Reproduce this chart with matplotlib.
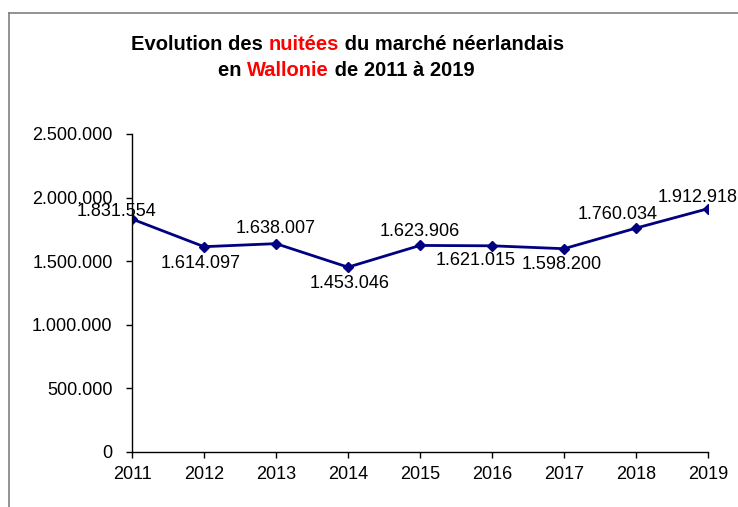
import matplotlib.pyplot as plt
from matplotlib.lines import Line2D
from matplotlib.ticker import FuncFormatter

plt.rcParams['font.family'] = ['Liberation Sans', 'DejaVu Sans']

years = ['2011', '2012', '2013', '2014', '2015', '2016', '2017', '2018', '2019']
nuitees = [1831554, 1614097, 1638007, 1453046, 1623906, 1621015, 1598200, 1760034, 1912918]
yticks = [0, 500000, 1000000, 1500000, 2000000, 2500000]

# label offsets in pixels (dx, dy), as placed in the original
label_offsets = [(-15, 8), (-3, -17), (0, 15), (2, -16), (0, 14),
                 (-16, -15), (-2, -16), (-18, 14), (-10, 11)]


def fmt_dots(v, pos=None):
    return f'{int(v):,}'.replace(',', '.')


fig = plt.figure(figsize=(7.38, 5.07), dpi=100)
ax = fig.add_axes([132 / 738, 1 - 452 / 507, (708 - 132) / 738, (452 - 134) / 507])

x = list(range(len(years)))
ax.plot(x, nuitees, color='#000080', linewidth=2, marker='D', markersize=5)

for i, v in enumerate(nuitees):
    dx, dy = label_offsets[i]
    ax.annotate(fmt_dots(v), (i, v), xytext=(dx * 0.72, dy * 0.72), textcoords='offset points',
                ha='center', va='center', fontsize=13, color='black', annotation_clip=False)

ax.set_xlim(0, len(years) - 1)
ax.set_ylim(0, 2500000)
ax.set_xticks(x)
ax.set_xticklabels(years)
ax.set_yticks(yticks)
ax.yaxis.set_major_formatter(FuncFormatter(fmt_dots))
ax.tick_params(axis='both', direction='out', length=4, width=1, labelsize=13, colors='black')
ax.tick_params(axis='y', pad=10)
ax.tick_params(axis='x', pad=6)
for s in ['top', 'right']:
    ax.spines[s].set_visible(False)
for s in ['left', 'bottom']:
    ax.spines[s].set_linewidth(1)
    ax.spines[s].set_color('black')

# outer frame (left and top visible)
fig.add_artist(Line2D([9 / 738, 9 / 738], [0, 1 - 13 / 507], color='#808080', linewidth=1.2))
fig.add_artist(Line2D([9 / 738, 1], [1 - 13 / 507, 1 - 13 / 507], color='#808080', linewidth=1.2))

# two-colour title, pieces chained one after another
title_lines = [
    (131 / 738, 1 - 45 / 507, [('Evolution des ', 'black'), ('nuitées', 'red'), (' du marché néerlandais', 'black')]),
    (218 / 738, 1 - 70 / 507, [('en ', 'black'), ('Wallonie', 'red'), (' de 2011 à 2019', 'black')]),
]
for x0, y0, pieces in title_lines:
    prev = None
    for txt, col in pieces:
        if prev is None:
            prev = fig.text(x0, y0, txt, color=col, fontsize=14.5, fontweight='bold', va='center', ha='left')
        else:
            prev = ax.annotate(txt, xy=(1, 0), xycoords=prev, va='bottom', ha='left',
                               color=col, fontsize=14.5, fontweight='bold', annotation_clip=False)

fig.savefig('out.png', dpi=100)
